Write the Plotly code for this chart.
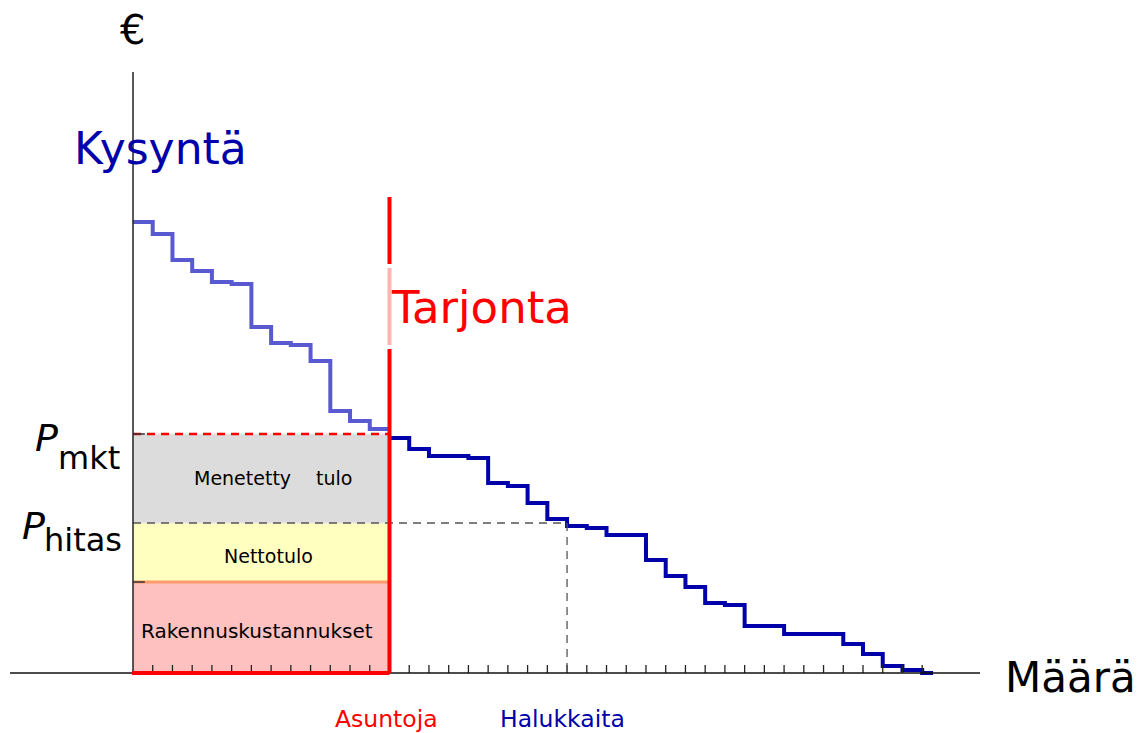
import plotly.graph_objects as go

# ---------------- data ----------------
# demand step function: quantity at the start of each step and price of that step
demand_q = [0, 1, 2, 3, 4, 5, 6, 7, 8, 9, 10, 11, 12, 13, 14, 15, 16, 17, 18, 19, 20,
            21, 22, 23, 24, 25, 26, 27, 28, 29, 30, 31, 32, 33, 34, 35, 36, 37, 38, 39, 40, 40.55]
demand_p = [45.1, 43.9, 41.3, 40.2, 39.1, 38.9, 34.6, 33.0, 32.8, 31.2, 26.2, 25.2, 24.4,
            23.5, 22.4, 21.7, 21.7, 21.5, 19.0, 18.7, 17.0, 15.4, 14.7, 14.5, 13.8, 13.8,
            11.3, 9.7, 8.6, 7.0, 6.8, 4.7, 4.7, 3.9, 3.9, 3.9, 2.9, 1.9, 0.7, 0.3, 0.0, 0.0]
supply_q = 13            # fixed supply (Asuntoja)
demand_at_hitas = 22     # quantity demanded at P_hitas (Halukkaita)
p_mkt = 23.9
p_hitas = 15.0
build_cost = 9.1
tick_q = list(range(1, 41))

# ---------------- pixel helpers (layout only) ----------------
X0, XU = 133.0, 19.73     # pixel of q=0, pixels per unit
Y0, YU = 673.0, 10.0      # pixel of p=0, pixels per unit
W, H = 1142, 733
def px(x):
    return (x - X0) / XU
def py(y):
    return (Y0 - y) / YU

FONT = "DejaVu Sans"
fig = go.Figure()

# coloured areas
fig.add_shape(type="rect", x0=0, x1=supply_q, y0=0, y1=build_cost,
              fillcolor="#ffc0c0", line_width=0, layer="below")
fig.add_shape(type="rect", x0=0, x1=supply_q, y0=build_cost, y1=p_hitas,
              fillcolor="#ffffc0", line_width=0, layer="below")
fig.add_shape(type="rect", x0=0, x1=supply_q, y0=p_hitas, y1=p_mkt,
              fillcolor="#dcdcdc", line=dict(color="#e8e8e8", width=1), layer="below")
# orange boundary between yellow and pink
fig.add_shape(type="line", x0=0, x1=supply_q, y0=build_cost, y1=build_cost,
              line=dict(color="#ff9a6a", width=3))

# split index at the supply quantity
i_s = demand_q.index(supply_q)
# demand curve, left part (lighter) and right part
fig.add_trace(go.Scatter(x=demand_q[:i_s + 1], y=demand_p[:i_s] + [demand_p[i_s - 1]],
                         mode="lines", line=dict(color="rgba(0,0,185,0.65)", width=4, shape="hv"),
                         hoverinfo="skip", showlegend=False))
fig.add_trace(go.Scatter(x=demand_q[i_s:], y=demand_p[i_s:],
                         mode="lines", line=dict(color="#0000aa", width=4, shape="hv"),
                         hoverinfo="skip", showlegend=False))

# dashed lines
fig.add_shape(type="line", x0=0, x1=supply_q, y0=p_mkt, y1=p_mkt,
              line=dict(color="#ff0000", width=2.5, dash="8px,6px"))
fig.add_shape(type="line", x0=0, x1=demand_at_hitas, y0=p_hitas, y1=p_hitas,
              line=dict(color="#555555", width=1.3, dash="8px,6px"))
fig.add_shape(type="line", x0=demand_at_hitas, x1=demand_at_hitas, y0=p_hitas, y1=0,
              line=dict(color="#555555", width=1.3, dash="8px,6px"))

# axes
fig.add_shape(type="line", x0=0, x1=0, y0=0, y1=py(72),
              line=dict(color="#222222", width=1.5))
fig.add_shape(type="line", x0=px(10), x1=px(980), y0=0, y1=0,
              line=dict(color="#111111", width=1.5))
# x ticks
tx, ty = [], []
for q in tick_q:
    tx += [q, q, None]
    ty += [0, 0.8, None]
fig.add_trace(go.Scatter(x=tx, y=ty, mode="lines", line=dict(color="#222222", width=1.3),
                         hoverinfo="skip", showlegend=False))
# y ticks
for p in [p_mkt, build_cost]:
    fig.add_shape(type="line", x0=0, x1=0.6, y0=p, y1=p,
                  line=dict(color="#333333", width=1.5))

# supply line (red), with lighter part behind the label
fig.add_shape(type="line", x0=supply_q, x1=supply_q, y0=0, y1=py(349),
              line=dict(color="#ff0000", width=4))
fig.add_shape(type="line", x0=supply_q, x1=supply_q, y0=py(345), y1=py(268),
              line=dict(color="#ffb3b3", width=4))
fig.add_shape(type="line", x0=supply_q, x1=supply_q, y0=py(264), y1=py(197),
              line=dict(color="#ff0000", width=4))
fig.add_shape(type="line", x0=-0.05, x1=supply_q, y0=0, y1=0,
              line=dict(color="#ff0000", width=4))

# ---------------- texts ----------------
def txt(s, x, y, size, color="#000000", xanchor="center", italic=False):
    fig.add_annotation(text=s, x=px(x), y=py(y), xref="x", yref="y", showarrow=False,
                       xanchor=xanchor, yanchor="middle",
                       font=dict(family=FONT, size=size, color=color,
                                 style="italic" if italic else "normal"))

txt("€", 132, 30, 40)
txt("Kysyntä", 72, 148, 44, color="#0000aa", xanchor="left")
txt("Tarjonta", 389, 307, 45, color="#ff0000", xanchor="left")
txt("Määrä", 1003, 677, 42, xanchor="left")
txt("P", 33, 438, 38, italic=True, xanchor="left")
txt("mkt", 56, 458, 32, xanchor="left")
txt("P", 20, 526, 38, italic=True, xanchor="left")
txt("hitas", 42, 540, 32, xanchor="left")
txt("Menetetty", 192, 478, 19, xanchor="left")
txt("tulo", 314, 478, 19, xanchor="left")
txt("Nettotulo", 268, 556, 19)
txt("Rakennuskustannukset", 257, 631, 20)
txt("Asuntoja", 386, 719, 23.5, color="#ff0000")
txt("Halukkaita", 562, 719, 23.5, color="#0000aa")

fig.update_layout(
    width=W, height=H, margin=dict(l=0, r=0, t=0, b=0),
    paper_bgcolor="white", plot_bgcolor="white", showlegend=False,
    xaxis=dict(range=[px(0), px(W)], visible=False, fixedrange=True),
    yaxis=dict(range=[py(H), py(0)], visible=False, fixedrange=True),
)

fig.write_html("out.html", config={"displayModeBar": False},
               post_script="document.body.style.margin='0';document.body.style.overflow='hidden';")
